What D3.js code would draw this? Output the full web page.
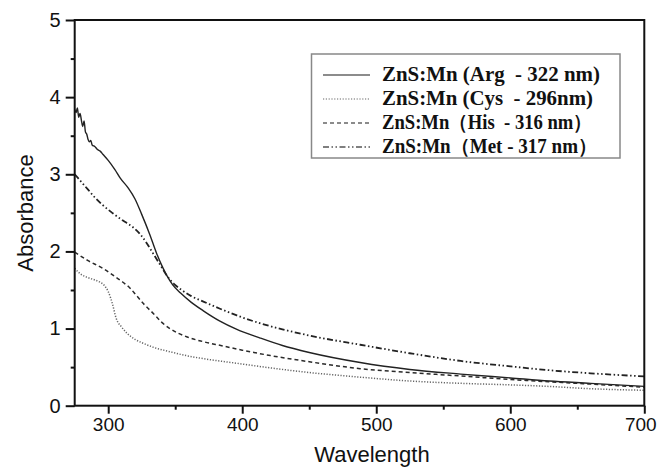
<!DOCTYPE html>
<html><head><meta charset="utf-8">
<script src="https://cdn.jsdelivr.net/npm/d3@7"></script>
<style>
body{margin:0;background:#fff}
svg{display:block}
.leg text{white-space:pre}
</style>
</head><body>
<svg id="c" width="657" height="468"></svg>
<script>
// ---- data ----
const argData = [[275,3.84],[276,3.80],[277,3.86],[278,3.74],[279,3.79],[280,3.70],[281,3.62],[282,3.69],[283,3.55],[284,3.52],[285,3.45],[286,3.42],[287,3.44],[288,3.38],[290,3.36],[292,3.32],[294,3.30],[296,3.26],[300,3.18],[305,3.06],[309,2.95],[315,2.82],[320,2.68],[325,2.48],[331,2.22],[336,1.98],[341,1.78],[344,1.68],[348,1.57],[354,1.46],[362,1.34],[371,1.23],[383,1.10],[396,0.99],[413,0.88],[430,0.78],[450,0.69],[488,0.56],[525,0.47],[563,0.41],[600,0.36],[629,0.32],[660,0.29],[700,0.25]];
const cysData = [[275,1.78],[280,1.70],[285,1.66],[290,1.63],[294,1.60],[297,1.56],[300,1.48],[303,1.33],[306,1.13],[310,1.02],[314,0.94],[320,0.86],[326,0.81],[335,0.75],[346,0.70],[358,0.65],[371,0.61],[396,0.55],[421,0.49],[450,0.43],[488,0.37],[525,0.32],[563,0.29],[600,0.27],[629,0.25],[660,0.22],[700,0.20]];
const hisData = [[275,1.99],[285,1.88],[296,1.78],[303,1.70],[311,1.60],[316,1.53],[321,1.43],[327,1.31],[334,1.19],[340,1.08],[346,1.00],[359,0.89],[371,0.83],[384,0.78],[400,0.72],[421,0.65],[450,0.57],[488,0.48],[525,0.43],[563,0.385],[600,0.34],[629,0.31],[660,0.28],[700,0.24]];
const metData = [[275,3.00],[280,2.90],[285,2.80],[290,2.70],[296,2.60],[303,2.50],[311,2.40],[318,2.32],[324,2.22],[329,2.10],[334,1.96],[339,1.82],[344,1.68],[349,1.58],[354,1.51],[362,1.42],[371,1.35],[383,1.26],[396,1.17],[413,1.07],[430,0.99],[450,0.91],[488,0.79],[525,0.68],[563,0.58],[600,0.51],[629,0.46],[660,0.42],[700,0.38]];
const seriesNames = ["ZnS:Mn (Arg  - 322 nm)","ZnS:Mn (Cys  - 296nm)","ZnS:Mn（His  - 316 nm）","ZnS:Mn（Met - 317 nm）"];
const xTicks = [300,400,500,600,700];
const xMinor = [350,450,550,650];
const yTicks = [0,1,2,3,4,5];
const yMinor = [0.5,1.5,2.5,3.5,4.5];

// ---- layout ----
const svg = d3.select("#c");
const L = 74.7, R = 644.3, T = 20, B = 405.7;
const x = d3.scaleLinear().domain([275,700]).range([L,R]);
const y = d3.scaleLinear().domain([0,5]).range([B,T]);

const styles = [
  {dash:null, color:"#222", w:1.4, lc:"#666"},
  {dash:"1.2,1.6", color:"#666", w:1.5, lc:"#999"},
  {dash:"4,3", color:"#2a2a2a", w:1.5, lc:"#666"},
  {dash:"6,2.5,1.5,2.5,1.5,2.5", color:"#222", w:1.8, lc:"#555"}
];
const series = [argData, cysData, hisData, metData];

svg.append("clipPath").attr("id","clip").append("rect")
  .attr("x",L).attr("y",T).attr("width",R-L).attr("height",B-T);

const line = d3.line().x(d=>x(d[0])).y(d=>y(d[1])).curve(d3.curveMonotoneX);
const g = svg.append("g").attr("clip-path","url(#clip)");
series.forEach((data,i)=>{
  const s = styles[i];
  g.append("path").attr("d",line(data)).attr("fill","none")
   .attr("stroke",s.color).attr("stroke-width",s.w)
   .attr("stroke-dasharray",s.dash);
});

// axes
const font = "'Liberation Sans', Arial, sans-serif";
const xa = svg.append("g").attr("transform",`translate(0,${B})`)
  .call(d3.axisBottom(x).tickValues(xTicks).tickSize(8).tickPadding(4).tickFormat(d3.format("d")));
const xm = svg.append("g").attr("transform",`translate(0,${B})`)
  .call(d3.axisBottom(x).tickValues(xMinor).tickSize(4).tickFormat(""));
const ya = svg.append("g").attr("transform",`translate(${L},0)`)
  .call(d3.axisLeft(y).tickValues(yTicks).tickSize(9).tickPadding(5).tickFormat(d3.format("d")));
const ym = svg.append("g").attr("transform",`translate(${L},0)`)
  .call(d3.axisLeft(y).tickValues(yMinor).tickSize(4).tickFormat(""));
[xa,xm,ya,ym].forEach(a=>{
  a.select(".domain").remove();
  a.selectAll("line").attr("stroke","#111").attr("stroke-width",2);
  a.selectAll("text").attr("font-family",font).attr("font-size",20).attr("fill","#111");
});
xa.selectAll("text").attr("font-size",19);
xa.selectAll(".tick").filter(d=>d===700).select("text").attr("dx",-4);

// frame
svg.append("rect").attr("x",L).attr("y",T).attr("width",R-L).attr("height",B-T)
  .attr("fill","none").attr("stroke","#111").attr("stroke-width",2);

// axis titles
svg.append("text").attr("transform","translate(33,213) rotate(-90)")
  .attr("text-anchor","middle").attr("font-family",font).attr("font-size",22)
  .attr("fill","#111").text("Absorbance");
svg.append("text").attr("x",372).attr("y",462)
  .attr("text-anchor","middle").attr("font-family",font).attr("font-size",22)
  .attr("fill","#111").text("Wavelength");

// legend
const leg = svg.append("g").attr("class","leg");
leg.append("rect").attr("x",311.5).attr("y",54).attr("width",308.5).attr("height",104)
  .attr("fill","#fff").attr("stroke","#888").attr("stroke-width",1.5);
const rowY = [75,99,123,147];
const rowLen = [218,211,210,215];
styles.forEach((s,i)=>{
  leg.append("line").attr("x1",323).attr("x2",370).attr("y1",rowY[i]).attr("y2",rowY[i])
    .attr("stroke",s.lc).attr("stroke-width",1.3).attr("stroke-dasharray",s.dash);
  leg.append("text").attr("x",382).attr("y",rowY[i]+6)
    .attr("font-family","'Liberation Serif','Times New Roman',serif")
    .attr("font-weight","bold").attr("font-size",20).attr("fill","#111")
    .attr("textLength",rowLen[i]).attr("lengthAdjust","spacingAndGlyphs")
    .text(seriesNames[i]);
});
</script>
</body></html>
